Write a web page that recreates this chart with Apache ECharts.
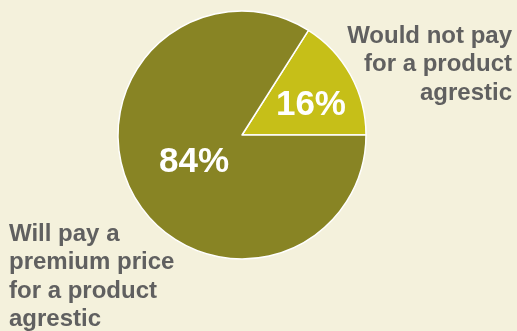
<!DOCTYPE html>
<html><head><meta charset="utf-8">
<script src="https://cdn.jsdelivr.net/npm/echarts@6/dist/echarts.min.js"></script>
<style>html,body{margin:0;padding:0;background:#f4f1dc;}#c{width:517px;height:331px;}</style>
</head><body><div id="c"></div>
<script>
const categories = ['Would not pay for a product agrestic', 'Will pay a premium price for a product agrestic'];
const values = [16, 84];
const colors = ['#c6bf18', '#888424'];
const labelOffsets = [[12, 2], [9, -4]];
const chart = echarts.init(document.getElementById('c'));
chart.setOption({
  backgroundColor: '#f4f1dc',
  animation: false,
  series: [{
    type: 'pie',
    center: [242, 135],
    radius: [0, 124],
    startAngle: 0,
    clockwise: false,
    data: categories.map((n, i) => ({name: n, value: values[i], itemStyle: {color: colors[i]}, label: {offset: labelOffsets[i]}})),
    itemStyle: {borderColor: '#ffffff', borderWidth: 1.5},
    label: {
      show: true, position: 'inside', formatter: '{c}%',
      color: '#ffffff', fontFamily: 'Liberation Sans, Arial', fontWeight: 'bold', fontSize: 35
    },
    labelLine: {show: false},
    emphasis: {disabled: true}
  }],
  graphic: [
    {type: 'text', x: 512, y: 22, style: {text: 'Would not pay\nfor a product\nagrestic', align: 'right', verticalAlign: 'top', fill: '#606060', font: 'bold 24px "Liberation Sans", Arial', lineHeight: 28.5}},
    {type: 'text', x: 9, y: 220, style: {text: 'Will pay a\npremium price\nfor a product\nagrestic', align: 'left', verticalAlign: 'top', fill: '#606060', font: 'bold 24px "Liberation Sans", Arial', lineHeight: 28.5}}
  ]
});
</script></body></html>
